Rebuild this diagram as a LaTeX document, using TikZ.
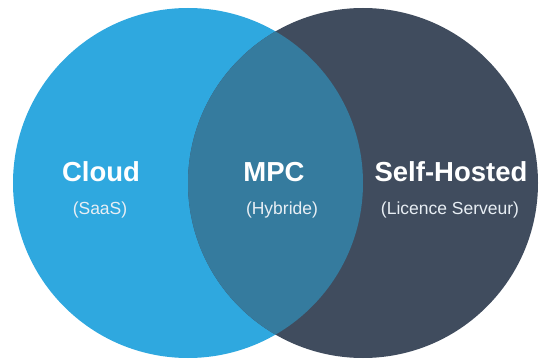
\documentclass[tikz,border=0pt]{standalone}
\usepackage{fontspec}
\setmainfont{Liberation Sans}
\definecolor{cloudblue}{HTML}{2FA8DF}
\definecolor{selfdark}{HTML}{404C5E}
\definecolor{mpcmix}{HTML}{357B9E}
\definecolor{subtext}{HTML}{E8EEF4}
\begin{document}
\begin{tikzpicture}[x=1pt,y=-1pt,
  venn/.style={circle,inner sep=0pt,minimum size=350pt,draw=none},
  title/.style={anchor=base,text=white,font=\fontsize{27.5}{30}\selectfont\bfseries},
  sub/.style={anchor=base,text=subtext,font=\fontsize{17.5}{20}\selectfont}]
\useasboundingbox (0,0) rectangle (539,361);
\node[venn,fill=cloudblue] (cloud) at (188,183) {};
\node[venn,fill=selfdark] (self) at (363,183) {};
\begin{scope}
  \clip (188,183) circle (175);
  \fill[mpcmix] (363,183) circle (175);
\end{scope}
\node[title] (tcloud) at (101,182) {Cloud};
\node[sub] (scloud) at (100,214) {(SaaS)};
\node[title] (tmpc) at (274,182) {MPC};
\node[sub] (smpc) at (282,214) {(Hybride)};
\node[title] (tself) at (451,182) {Self-Hosted};
\node[sub] (sself) at (450,214) {(Licence Serveur)};
\end{tikzpicture}
\end{document}
